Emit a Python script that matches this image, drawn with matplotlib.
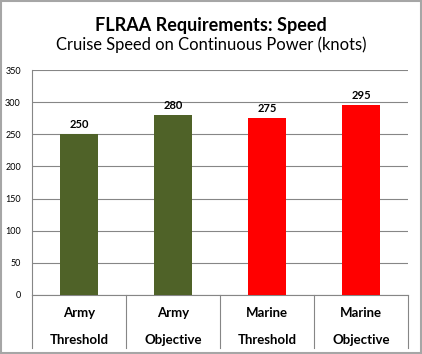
import matplotlib.pyplot as plt
from matplotlib.patches import Rectangle

plt.rcParams["font.family"] = ["Lato", "DejaVu Sans"]

services = ["Army", "Army", "Marine", "Marine"]
levels = ["Threshold", "Objective", "Threshold", "Objective"]
speeds = [250, 280, 275, 295]
colors = ["#4F6228", "#4F6228", "#FF0000", "#FF0000"]
yticks = [0, 50, 100, 150, 200, 250, 300, 350]

fig = plt.figure(figsize=(4.22, 3.54), dpi=100)
ax = fig.add_axes([32 / 422, 59 / 354, 376 / 422, 225 / 354])

x = range(len(speeds))
ax.bar(x, speeds, width=0.4, color=colors, zorder=3)
for i, v in enumerate(speeds):
    ax.text(i, v + 6, str(v), ha="center", va="bottom", fontsize=8, fontweight="bold")

ax.set_xlim(-0.5, len(speeds) - 0.5)
ax.set_ylim(0, 350)
ax.set_yticks(yticks)
ax.tick_params(axis="y", length=0, labelsize=6.5, pad=8)
ax.set_xticks([])
ax.grid(axis="y", color="#868686", linewidth=0.8, zorder=0)
for side in ["top", "right"]:
    ax.spines[side].set_visible(False)
ax.spines["left"].set_color("#868686")
ax.spines["bottom"].set_color("#868686")
ax.spines["left"].set_linewidth(0.8)
ax.spines["bottom"].set_linewidth(0.8)

# category table below the axis
trans = ax.get_xaxis_transform()
for b in [i - 0.5 for i in range(len(speeds) + 1)]:
    ax.plot([b, b], [0, -0.236], color="#868686", lw=0.8, transform=trans, clip_on=False)
for i, (s, l) in enumerate(zip(services, levels)):
    ax.text(i, -0.08, s, ha="center", va="center", fontsize=9.5, fontweight="bold", transform=trans)
    ax.text(i, -0.20, l, ha="center", va="center", fontsize=9.5, fontweight="bold", transform=trans)

fig.text(0.5, 1 - 25 / 354, "FLRAA Requirements: Speed", ha="center", va="center",
         fontsize=13, fontweight="bold")
fig.text(0.5, 1 - 45 / 354, "Cruise Speed on Continuous Power (knots)", ha="center", va="center",
         fontsize=11.9)

fig.patches.append(Rectangle((0.003, 0.004), 0.994, 0.992, transform=fig.transFigure,
                             fill=False, edgecolor="#A6A6A6", linewidth=1.5))

fig.savefig("out.png", dpi=100)
